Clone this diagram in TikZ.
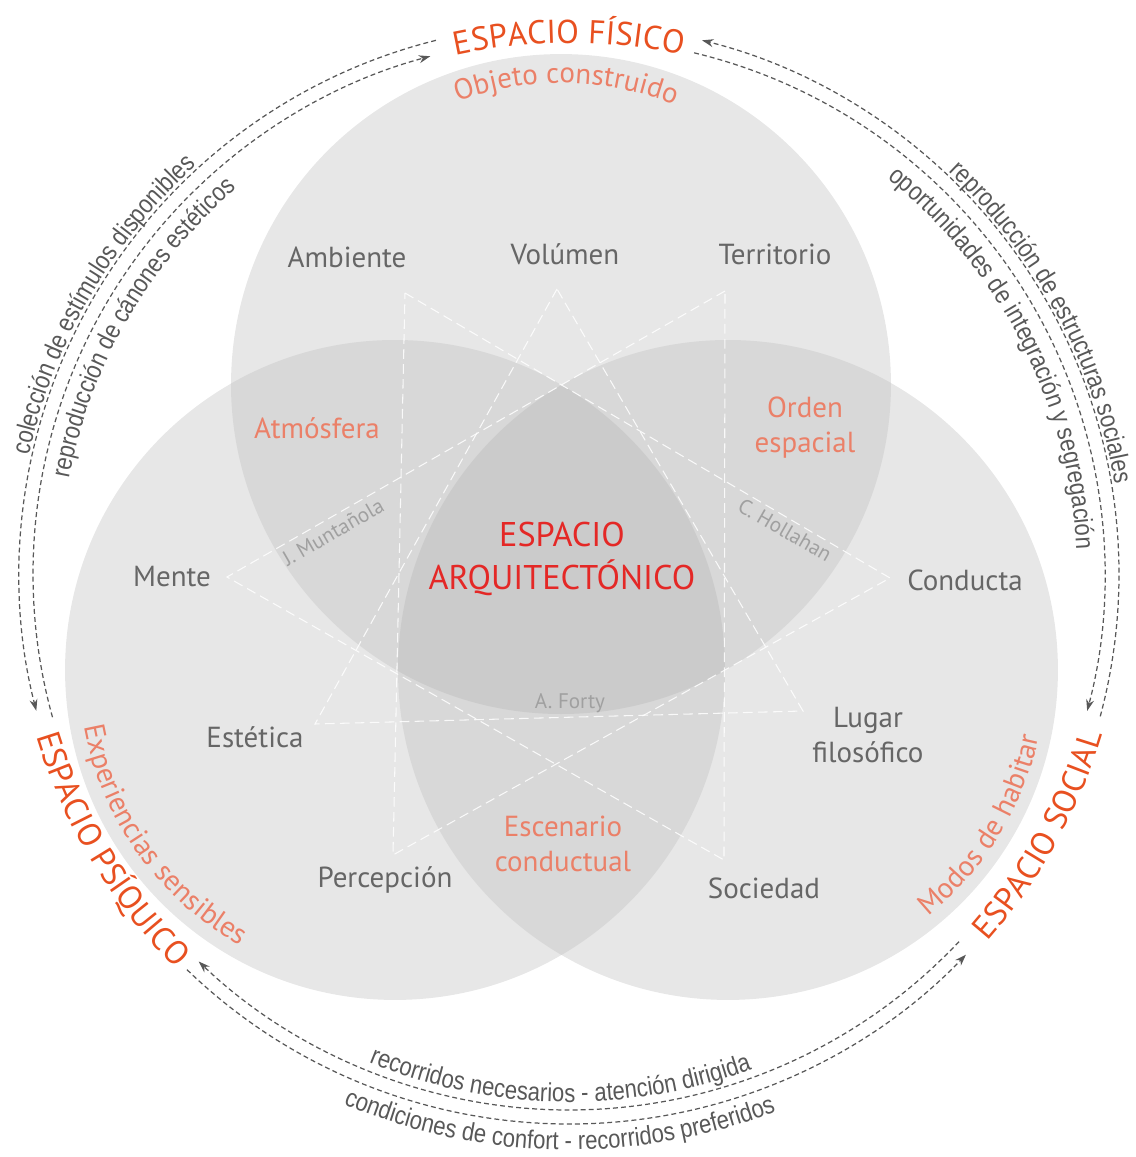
\documentclass[tikz,border=0pt]{standalone}
\usepackage{fontspec}
\setmainfont{PT Sans}
\newfontfamily\narrowsans[FakeStretch=0.85]{Liberation Sans}
\usetikzlibrary{arrows.meta,positioning,decorations.text}

\definecolor{conceptgray}{RGB}{102,102,102}
\definecolor{salmon}{RGB}{235,128,104}
\definecolor{spaceorange}{RGB}{232,80,32}
\definecolor{archred}{RGB}{228,40,38}
\definecolor{authorgray}{RGB}{160,160,160}
\definecolor{flowgray}{RGB}{88,88,88}
\definecolor{onegray}{RGB}{231,231,231}
\definecolor{twogray}{RGB}{216,216,216}
\definecolor{threegray}{RGB}{203,203,203}

\newcommand{\flowfont}{\narrowsans\fontsize{14.8}{16}\selectfont}
\newcommand{\spacefont}{\fontsize{18.8}{22}\selectfont}
\newcommand{\zonefont}{\fontsize{16.5}{20}\selectfont}

\tikzset{
  zone/.style={circle, fill=onegray, inner sep=0pt, minimum size=13.2cm},
  concept/.style={text=conceptgray, font=\zonefont, align=center},
  facet/.style={text=salmon, font=\zonefont, align=center},
  author/.style={text=authorgray, font=\fontsize{12}{14}\selectfont},
  star/.style={white, opacity=0.85, line width=0.6pt, dash pattern=on 5.5pt off 3pt},
  flow/.style={flowgray, line width=0.7pt, dash pattern=on 2.8pt off 1.8pt, -{Stealth[length=6.5pt, width=4.5pt]}},
  curved/.style={decorate, decoration={text along path, text align=center, text color=#1}},
}

\begin{document}
\begin{tikzpicture}[x=0.02cm, y=0.02cm]
            \useasboundingbox (-569,-583) rectangle (567,574);
            \coordinate (center) at (0,0);

            % the three spaces
            \node[zone] (physical) at (-8,190) {};
            \node[zone] (psychic) at (-174,-96) {};
            \node[zone] (social) at (159,-96) {};

            % darker where they overlap
            \begin{scope}
                \clip (physical.center) circle[radius=330];
                \fill[twogray] (psychic.center) circle[radius=330];
                \fill[twogray] (social.center) circle[radius=330];
            \end{scope}
            \begin{scope}
                \clip (psychic.center) circle[radius=330];
                \fill[twogray] (social.center) circle[radius=330];
            \end{scope}
            \begin{scope}
                \clip (physical.center) circle[radius=330];
                \clip (psychic.center) circle[radius=330];
                \fill[threegray] (social.center) circle[radius=330];
            \end{scope}

            % star of the three authors
            \coordinate (vAmb) at (-164,281);
            \coordinate (vVol) at (-12,285);
            \coordinate (vTer) at (156,283);
            \coordinate (vMen) at (-342,-3);
            \coordinate (vCon) at (321,-4);
            \coordinate (vEst) at (-254,-150);
            \coordinate (vLug) at (234,-137);
            \coordinate (vPer) at (-176,-281);
            \coordinate (vSoc) at (155,-286);
            \draw[star] (vAmb) -- (vCon) -- (vPer) -- cycle;
            \draw[star] (vTer) -- (vMen) -- (vSoc) -- cycle;
            \draw[star] (vVol) -- (vEst) -- (vLug) -- cycle;

            % concepts
            \node[concept] (ambiente) at (-222,317) {Ambiente};
            \node[concept] (volumen) at (-4,320) {Volúmen};
            \node[concept] (territorio) at (206,320) {Territorio};
            \node[concept] (mente) at (-397,-3) {Mente};
            \node[concept] (conducta) at (396,-6) {Conducta};
            \node[concept] (estetica) at (-314,-163) {Estética};
            \node[concept] (lugar) at (299,-161) {Lugar\\filosófico};
            \node[concept] (percepcion) at (-184,-306) {Percepción};
            \node[concept] (sociedad) at (195,-314) {Sociedad};

            % overlaps
            \node[facet] (atmosfera) at (-252,146) {Atmósfera};
            \node[facet] (orden) at (236,146) {Orden\\espacial};
            \node[facet] (escenario) at (-6,-270) {Escenario\\conductual};
            \node[text=archred, font=\fontsize{19.5}{24.5}\selectfont, align=center] (arq) at (-7,15) {ESPACIO\\ARQUITECTÓNICO};

            % authors
            \node[author, rotate=30] (munta) at (-236,42) {J. Muntañola};
            \node[author, rotate=-30] (holla) at (216,44) {C. Hollahan};
            \node[author] (forty) at (1,-129) {A. Forty};

            % names inside the circles
            \path[curved=salmon, decoration={text={|\zonefont|Objeto construido}}]
                ([shift={(119:301)}]physical.center) arc[start angle=119, end angle=59, radius=301];
            \path[curved=salmon, decoration={text={|\zonefont|Experiencias sensibles}}]
                ([shift={(180:316)}]psychic.center) arc[start angle=180, end angle=251, radius=316];
            \path[curved=salmon, decoration={text={|\zonefont|Modos de habitar}}]
                ([shift={(298:318)}]social.center) arc[start angle=298, end angle=359, radius=318];

            % outer ring labels
            \path[curved=spaceorange, decoration={text={|\spacefont|ESPACIO FÍSICO}}]
                (112:531) arc[start angle=112, end angle=68, radius=531];
            \path[curved=spaceorange, decoration={text={|\spacefont|ESPACIO PSÍQUICO}}]
                (186:557) arc[start angle=186, end angle=236, radius=557];
            \path[curved=spaceorange, decoration={text={|\spacefont|ESPACIO SOCIAL}}]
                (306:557) arc[start angle=306, end angle=356, radius=557];

            % flows between the spaces
            \coordinate (fp) at (104:550);
            \coordinate (ps) at (226:550);
            \coordinate (sf) at (-15:550);
            \coordinate (pf) at (195.5:536);
            \coordinate (fs) at (76.5:536);
            \coordinate (sp) at (316.7:536);
            \draw[flow] (fp) arc[start angle=104, end angle=194.4, radius=550];
            \draw[flow] (ps) arc[start angle=226, end angle=316.2, radius=550];
            \draw[flow] (sf) arc[start angle=-15, end angle=76, radius=550];
            \draw[flow] (pf) arc[start angle=195.5, end angle=105, radius=536];
            \draw[flow] (fs) arc[start angle=76.5, end angle=-14.8, radius=536];
            \draw[flow] (sp) arc[start angle=316.7, end angle=226.3, radius=536];

            % what travels along each flow
            \path[curved=flowgray, decoration={text={|\flowfont|colección de estímulos disponibles}}]
                (178:553) arc[start angle=178, end angle=122, radius=553];
            \path[curved=flowgray, decoration={text={|\flowfont|reproducción de cánones estéticos}}]
                (178:509) arc[start angle=178, end angle=122, radius=509];
            \path[curved=flowgray, decoration={text={|\flowfont|reproducción de estructuras sociales}}]
                (56:553) arc[start angle=56, end angle=0, radius=553];
            \path[curved=flowgray, decoration={text={|\flowfont|oportunidades de integración y segregación}}]
                (56:508) arc[start angle=56, end angle=-2, radius=508];
            \path[curved=flowgray, decoration={text={|\flowfont|recorridos necesarios - atención dirigida}}]
                (240:528) arc[start angle=240, end angle=298, radius=528];
            \path[curved=flowgray, decoration={text={|\flowfont|condiciones de confort - recorridos preferidos}}]
                (240:576) arc[start angle=240, end angle=298, radius=576];

\end{tikzpicture}
\end{document}
